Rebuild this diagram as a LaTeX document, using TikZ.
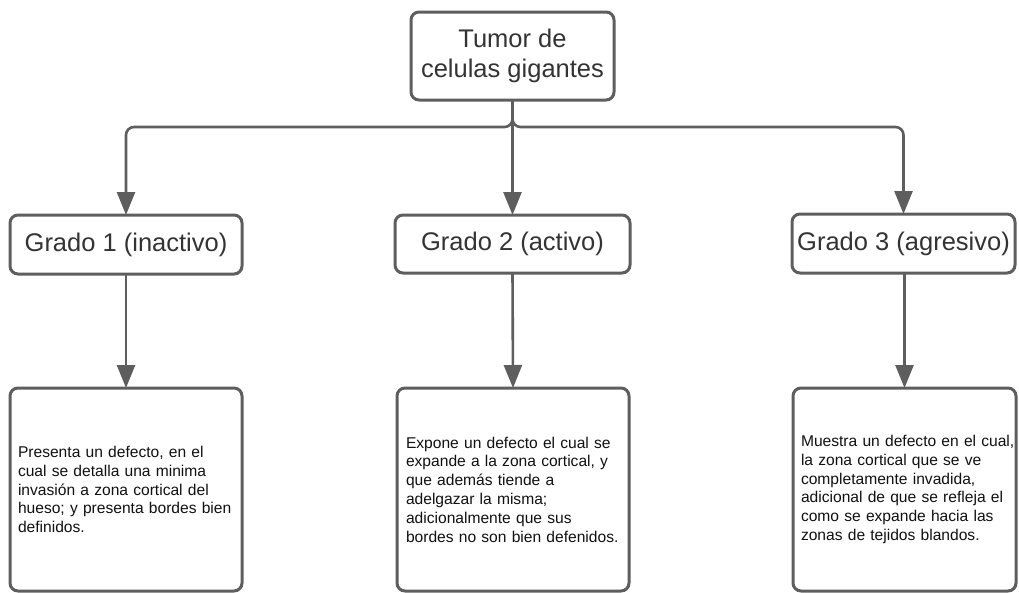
\documentclass[tikz,border=0pt]{standalone}
\usepackage{fontspec}
\setmainfont{Liberation Sans}
\usetikzlibrary{arrows.meta}
\definecolor{stroke}{HTML}{5E5E5E}
\definecolor{titletxt}{HTML}{333333}
\definecolor{bodytxt}{HTML}{111111}
\begin{document}
\begin{tikzpicture}[x=1pt,y=-1pt,
  box/.style={draw=stroke, line width=3pt, rounded corners=8pt, fill=white, inner sep=0pt, outer sep=0pt},
  title/.style={box, text=titletxt, font=\fontsize{25.5}{29.5}\selectfont, align=center},
  body/.style={box, text=bodytxt, font=\fontsize{15.6}{18.8}\selectfont, align=left, inner xsep=8pt},
  arr/.style={draw=stroke, line width=2.6pt, -{Triangle[length=23pt,width=18pt]}},
]
\useasboundingbox (0,0) rectangle (1019,592);
% top node
\node[title, minimum width=203pt, minimum height=88pt] (top) at (512.5,56) {Tumor de\\celulas gigantes};
% grade nodes
\node[title, minimum width=232pt, minimum height=59pt] (g1) at (126,244.5) {Grado 1 (inactivo)};
\node[title, minimum width=235pt, minimum height=58pt] (g2) at (512.5,244) {Grado 2 (activo)};
\node[title, minimum width=223pt, minimum height=59pt] (g3) at (903.5,243.5) {Grado 3 (agresivo)};
% body nodes
\node[body, minimum width=232pt, minimum height=203pt, text width=216pt] (b1) at (126,489.5)
  {Presenta un defecto, en el\\cual se detalla una minima\\invasión a zona cortical del\\hueso; y presenta bordes bien\\definidos.};
\node[body, minimum width=232pt, minimum height=203pt, text width=214pt, inner xsep=9pt] (b2) at (513,489.5)
  {Expone un defecto el cual se\\expande a la zona cortical, y\\que además tiende a\\adelgazar la misma;\\adicionalmente que sus\\bordes no son bien defenidos.};
\node[body, minimum width=223pt, minimum height=203pt, text width=207pt] (b3) at (904.5,489.5)
  {\mbox{Muestra un defecto en el cual,}\\la zona cortical que se ve\\completamente invadida,\\adicional de que se refleja el\\como se expande hacia las\\zonas de tejidos blandos.};
% connectors
\coordinate (j) at (512.5,127);
\draw[arr, rounded corners=8pt] (top.south) -- (j) -| (g1.north);
\draw[arr, rounded corners=8pt] (top.south) -- (j) -| (g3.north);
\draw[arr] (top.south) -- (g2.north);
\draw[arr] (g1.south) -- (b1.north);
\draw[arr] (g2.south) -- (b2.north);
\draw[arr] (g3.south -| b3.north) -- (b3.north);
\end{tikzpicture}
\end{document}
